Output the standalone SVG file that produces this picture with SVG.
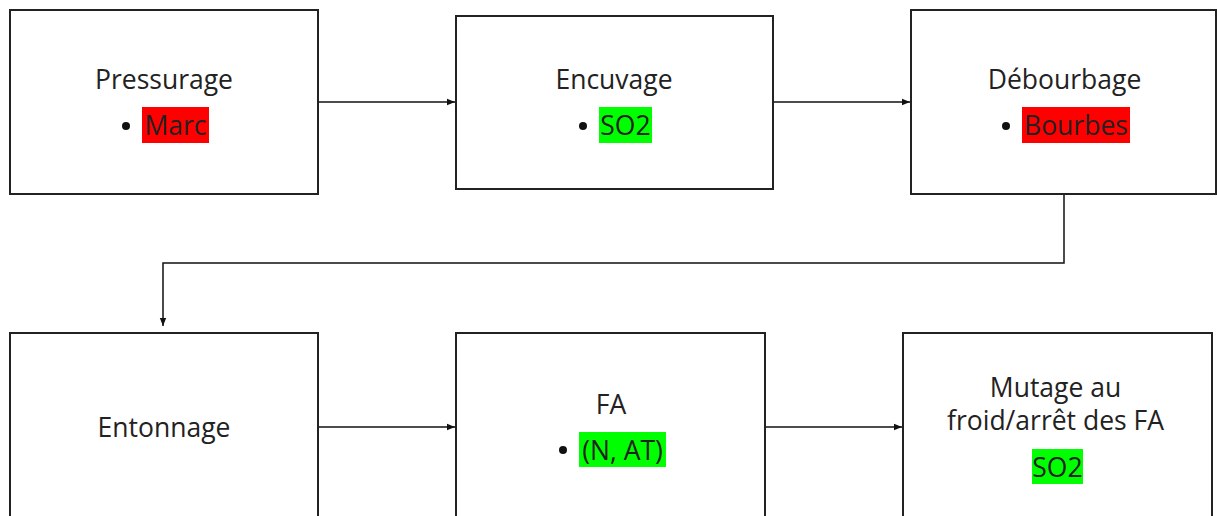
<svg xmlns="http://www.w3.org/2000/svg" width="1217" height="516" viewBox="0 0 1217 516">
<style>
.box{fill:#fff;stroke:#222;stroke-width:2}
.t{font-family:"Open Sans","Noto Sans",sans-serif;font-size:26.5px;fill:#222;text-anchor:middle}
.c{stroke:#111;stroke-width:1.5;fill:none}
.red{fill:#ff0000}
.grn{fill:#00ff00}
</style>
<defs>
<marker id="arr" viewBox="0 0 10 10" refX="10" refY="5" markerWidth="9" markerHeight="8" markerUnits="userSpaceOnUse" orient="auto">
<path d="M0,1 L10,5 L0,9 Z" fill="#111"/>
</marker>
</defs>
<rect width="1217" height="516" fill="#fff"/>
<g id="connectors">
<line class="c" x1="319" y1="102" x2="455" y2="102" marker-end="url(#arr)"/>
<line class="c" x1="774" y1="102" x2="910" y2="102" marker-end="url(#arr)"/>
<polyline class="c" points="1064,195 1064,263 163,263 163,326" marker-end="url(#arr)"/>
<line class="c" x1="319" y1="427" x2="455" y2="427" marker-end="url(#arr)"/>
<line class="c" x1="766" y1="427" x2="902" y2="427" marker-end="url(#arr)"/>
</g>
<g id="pressurage">
<rect class="box" x="10" y="10" width="308" height="184"/>
<text class="t" x="164" y="89">Pressurage</text>
<circle cx="126" cy="126" r="4" fill="#111"/>
<rect class="red" x="142" y="107" width="67" height="36"/>
<text class="t" x="175.5" y="135">Marc</text>
</g>
<g id="encuvage">
<rect class="box" x="456" y="16" width="317" height="173"/>
<text class="t" x="614" y="89">Encuvage</text>
<circle cx="583" cy="126" r="4" fill="#111"/>
<rect class="grn" x="599" y="107" width="53" height="36"/>
<text class="t" x="625.5" y="135">SO2</text>
</g>
<g id="debourbage">
<rect class="box" x="911" y="10" width="305" height="184"/>
<text class="t" x="1064.5" y="89">Débourbage</text>
<circle cx="1006" cy="126" r="4" fill="#111"/>
<rect class="red" x="1022" y="107" width="108" height="36"/>
<text class="t" x="1076" y="135">Bourbes</text>
</g>
<g id="entonnage">
<rect class="box" x="10" y="333" width="308" height="200"/>
<text class="t" x="164" y="437">Entonnage</text>
</g>
<g id="fa">
<rect class="box" x="456" y="333" width="309" height="200"/>
<text class="t" x="611" y="414">FA</text>
<circle cx="563" cy="450" r="4" fill="#111"/>
<rect class="grn" x="579" y="432" width="87" height="35"/>
<text class="t" x="622.5" y="460">(N, AT)</text>
</g>
<g id="mutage">
<rect class="box" x="903" y="333" width="309" height="200"/>
<text class="t" x="1055.5" y="397">Mutage au</text>
<text class="t" x="1055.5" y="430">froid/arrêt des FA</text>
<rect class="grn" x="1032" y="449" width="51" height="35"/>
<text class="t" x="1057.5" y="477">SO2</text>
</g>
</svg>
